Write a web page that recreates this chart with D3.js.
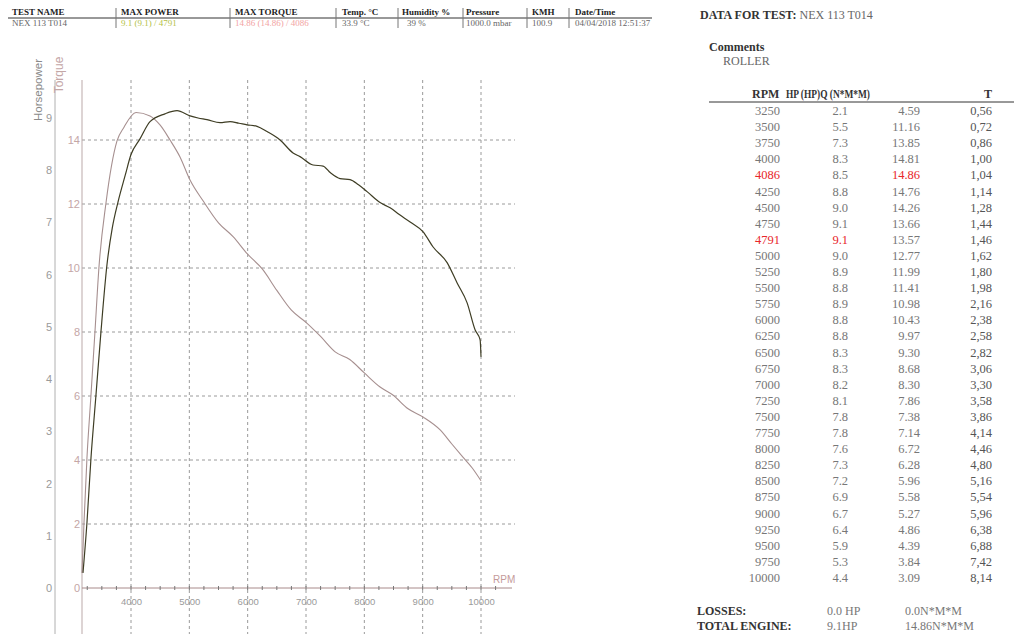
<!DOCTYPE html>
<html>
<head>
<meta charset="utf-8">
<script src="https://cdn.jsdelivr.net/npm/d3@7"></script>
<style>
  body { margin: 0; background: #fff; }
  svg { display: block; }
  .serif { font-family: "Liberation Serif", "Times New Roman", serif; }
  .sans { font-family: "Liberation Sans", Arial, sans-serif; }
</style>
</head>
<body>
<svg id="chart" width="1014" height="634"></svg>
<script>
// ---- data ----
const headerLabels = ["TEST NAME", "MAX POWER", "MAX TORQUE", "Temp. °C", "Humidity %", "Pressure", "KMH", "Date/Time"];
const headerValues = ["NEX 113 T014", "9.1 (9.1) / 4791", "14.86 (14.86) / 4086", "33.9 °C", "39 %", "1000.0 mbar", "100.9", "04/04/2018 12:51:37"];

// horsepower curve (rpm, hp)
const hpRpm = [3177, 3245, 3314, 3400, 3486, 3588, 3680, 3777, 3900, 4000, 4154, 4326, 4583, 4789, 5012, 5150, 5303, 5526, 5698, 5850, 5989, 6161, 6332, 6555, 6778, 6898, 7121, 7293, 7420, 7584, 7756, 7900, 8047, 8270, 8442, 8600, 8785, 9008, 9179, 9419, 9591, 9762, 9900, 9985, 10000];
const hpValues = [0.29, 1.25, 2.49, 3.70, 4.92, 6.19, 6.9, 7.39, 7.9, 8.3, 8.6, 8.93, 9.08, 9.14, 9.04, 9.0, 8.97, 8.91, 8.93, 8.9, 8.87, 8.84, 8.74, 8.58, 8.33, 8.26, 8.10, 8.08, 7.95, 7.84, 7.82, 7.72, 7.59, 7.38, 7.28, 7.15, 7.01, 6.82, 6.53, 6.23, 5.84, 5.46, 4.94, 4.75, 4.43];

// torque curve (rpm, N*m)
const tqRpm = [3160, 3194, 3245, 3314, 3383, 3451, 3571, 3760, 3880, 4086, 4326, 4497, 4669, 4840, 5012, 5235, 5500, 5750, 6000, 6250, 6500, 6750, 7000, 7250, 7500, 7750, 8000, 8270, 8490, 8750, 9010, 9300, 9500, 9690, 9850, 10000];
const tqValues = [0.47, 2.03, 4.06, 6.03, 8.03, 10.03, 12.03, 13.97, 14.4, 14.86, 14.75, 14.47, 14.0, 13.47, 12.75, 12.1, 11.41, 10.98, 10.43, 9.97, 9.30, 8.68, 8.30, 7.86, 7.38, 7.14, 6.72, 6.28, 6.03, 5.6, 5.34, 4.94, 4.5, 4.09, 3.75, 3.35];

const xTicks = [4000, 5000, 6000, 7000, 8000, 9000, 10000];
const hpTicks = [0, 1, 2, 3, 4, 5, 6, 7, 8, 9];
const tqTicks = [0, 2, 4, 6, 8, 10, 12, 14];

// table on the right
const tableRpm = [3250, 3500, 3750, 4000, 4086, 4250, 4500, 4750, 4791, 5000, 5250, 5500, 5750, 6000, 6250, 6500, 6750, 7000, 7250, 7500, 7750, 8000, 8250, 8500, 8750, 9000, 9250, 9500, 9750, 10000];
const tableHp = ["2.1", "5.5", "7.3", "8.3", "8.5", "8.8", "9.0", "9.1", "9.1", "9.0", "8.9", "8.8", "8.9", "8.8", "8.8", "8.3", "8.3", "8.2", "8.1", "7.8", "7.8", "7.6", "7.3", "7.2", "6.9", "6.7", "6.4", "5.9", "5.3", "4.4"];
const tableTq = ["4.59", "11.16", "13.85", "14.81", "14.86", "14.76", "14.26", "13.66", "13.57", "12.77", "11.99", "11.41", "10.98", "10.43", "9.97", "9.30", "8.68", "8.30", "7.86", "7.38", "7.14", "6.72", "6.28", "5.96", "5.58", "5.27", "4.86", "4.39", "3.84", "3.09"];
const tableT = ["0,56", "0,72", "0,86", "1,00", "1,04", "1,14", "1,28", "1,44", "1,46", "1,62", "1,80", "1,98", "2,16", "2,38", "2,58", "2,82", "3,06", "3,30", "3,58", "3,86", "4,14", "4,46", "4,80", "5,16", "5,54", "5,96", "6,38", "6,88", "7,42", "8,14"];
const maxTorqueRpm = 4086;
const maxPowerRpm = 4791;

const svg = d3.select("#chart");

// ---- header table (top left) ----
const headerX = [12, 121, 235, 342, 402, 466, 532, 575];
const sepX = [116, 230, 336, 398, 463, 527, 569];
const colors = ["#666", "#b4bf45", "#f2a3a3", "#666", "#666", "#666", "#666", "#666"];

const head = svg.append("g").attr("class", "serif");
head.append("line")
    .attr("x1", 8).attr("x2", 652).attr("y1", 18).attr("y2", 18)
    .attr("stroke", "#333").attr("stroke-width", 1);
head.selectAll("line.sep")
    .data(sepX)
    .join("line")
    .attr("class", "sep")
    .attr("x1", d => d).attr("x2", d => d)
    .attr("y1", 8).attr("y2", 28)
    .attr("stroke", "#777");
head.selectAll("text.hl")
    .data(headerLabels)
    .join("text")
    .attr("class", "hl")
    .attr("x", (d, i) => headerX[i]).attr("y", 15)
    .attr("font-size", 9).attr("font-weight", "bold").attr("fill", "#222")
    .text(d => d);
head.selectAll("text.hv")
    .data(headerValues)
    .join("text")
    .attr("class", "hv")
    .attr("x", (d, i) => headerX[i] + (i == 4 ? 5 : 0)).attr("y", 26)
    .attr("font-size", 9).attr("fill", (d, i) => colors[i])
    .text(d => d);

// ---- chart ----
const x = d3.scaleLinear().domain([4000, 10000]).range([131, 481]);
const yHp = d3.scaleLinear().domain([0, 9]).range([588, 118]);
const yTq = d3.scaleLinear().domain([0, 14]).range([588, 140]);

const plot = svg.append("g").attr("class", "sans");
const plotTop = 80, plotBottom = 634, plotLeft = 82, plotRight = 515;

// dashed grid
plot.selectAll("line.vgrid")
    .data(xTicks)
    .join("line")
    .attr("class", "vgrid")
    .attr("x1", d => x(d)).attr("x2", d => x(d))
    .attr("y1", plotTop).attr("y2", plotBottom)
    .attr("stroke", "#9a9a9a").attr("stroke-dasharray", "3,3");
plot.selectAll("line.hgrid")
    .data(tqTicks.filter(d => d > 0))
    .join("line")
    .attr("class", "hgrid")
    .attr("x1", plotLeft).attr("x2", plotRight)
    .attr("y1", d => yTq(d)).attr("y2", d => yTq(d))
    .attr("stroke", "#9a9a9a").attr("stroke-dasharray", "3,3");

// vertical axis lines
plot.append("line").attr("x1", 55).attr("x2", 55).attr("y1", plotTop).attr("y2", plotBottom)
    .attr("stroke", "#b0b0b0");
plot.append("line").attr("x1", plotLeft).attr("x2", plotLeft).attr("y1", plotTop).attr("y2", plotBottom)
    .attr("stroke", "#bba9a9");

// horsepower axis labels
const hpAxis = plot.append("g")
    .attr("transform", "translate(55,0)")
    .call(d3.axisLeft(yHp).tickValues(hpTicks).tickSize(0).tickPadding(3));
hpAxis.select(".domain").remove();
hpAxis.selectAll("text").attr("font-size", 11).attr("fill", "#9a9a9a").attr("font-family", "Liberation Sans, Arial, sans-serif");

// torque axis labels
const tqAxis = plot.append("g")
    .attr("transform", `translate(${plotLeft},0)`)
    .call(d3.axisLeft(yTq).tickValues(tqTicks).tickSize(0).tickPadding(2));
tqAxis.select(".domain").remove();
tqAxis.selectAll("text").attr("font-size", 11).attr("fill", "#c4a6a6").attr("font-family", "Liberation Sans, Arial, sans-serif");

// x axis
plot.append("line")
    .attr("x1", plotLeft).attr("x2", 512)
    .attr("y1", yHp(0)).attr("y2", yHp(0))
    .attr("stroke", "#a88a8a");
plot.selectAll("line.minor")
    .data(d3.range(3250, 10500, 250))
    .join("line")
    .attr("class", "minor")
    .attr("x1", d => x(d)).attr("x2", d => x(d))
    .attr("y1", yHp(0) - 2).attr("y2", yHp(0) + 2)
    .attr("stroke", "#777");
const xAxis = plot.append("g")
    .attr("transform", `translate(0,${yHp(0)})`)
    .call(d3.axisBottom(x).tickValues(xTicks).tickSize(0).tickPadding(10).tickFormat(d3.format("d")));
xAxis.select(".domain").remove();
xAxis.selectAll("text").attr("font-size", 9.5).attr("fill", "#9a9a9a").attr("font-family", "Liberation Sans, Arial, sans-serif");

plot.append("text").attr("x", 493).attr("y", 583)
    .attr("font-size", 10).attr("fill", "#c49a9a").text("RPM");

// axis titles
plot.append("text")
    .attr("transform", "translate(42,90) rotate(-90)")
    .attr("text-anchor", "middle")
    .attr("font-size", 11.5).attr("fill", "#8a8a8a")
    .text("Horsepower");
plot.append("text")
    .attr("transform", "translate(63,75) rotate(-90)")
    .attr("text-anchor", "middle")
    .attr("font-size", 12).attr("fill", "#c4a6a6")
    .text("Torque");

// curves
const tqLine = d3.line()
    .x((d, i) => x(tqRpm[i]))
    .y(d => yTq(d))
    .curve(d3.curveMonotoneX);
const hpLine = d3.line()
    .x((d, i) => x(hpRpm[i]))
    .y(d => yHp(d))
    .curve(d3.curveMonotoneX);

plot.append("path")
    .datum(tqValues)
    .attr("d", tqLine)
    .attr("fill", "none")
    .attr("stroke", "#a68f8f")
    .attr("stroke-width", 1.1);
plot.append("path")
    .datum(hpValues)
    .attr("d", hpLine)
    .attr("fill", "none")
    .attr("stroke", "#3e3d24")
    .attr("stroke-width", 1.2);

// ---- right side ----
const side = svg.append("g").attr("class", "serif");
const t1 = side.append("text").attr("x", 700).attr("y", 19).attr("font-size", 12);
t1.append("tspan").attr("font-weight", "bold").attr("fill", "#333").text("DATA FOR TEST: ");
t1.append("tspan").attr("fill", "#666").text("NEX 113 T014");

side.append("text").attr("x", 709).attr("y", 51).attr("font-size", 12)
    .attr("font-weight", "bold").attr("fill", "#333").text("Comments");
side.append("text").attr("x", 723).attr("y", 65).attr("font-size", 12)
    .attr("fill", "#666").text("ROLLER");

// table header (HP and TQ titles print on top of each other in the original)
const colRight = [780, 848, 920, 992];
side.append("text").attr("x", 752).attr("y", 98)
    .attr("font-size", 12).attr("font-weight", "bold").attr("fill", "#333").text("RPM");
side.append("text").attr("x", 786).attr("y", 98)
    .attr("font-size", 12).attr("font-weight", "bold").attr("fill", "#333")
    .attr("textLength", 84).attr("lengthAdjust", "spacingAndGlyphs")
    .text("HP (HP)Q (N*M*M)");
side.append("text").attr("x", colRight[3]).attr("y", 98).attr("text-anchor", "end")
    .attr("font-size", 12).attr("font-weight", "bold").attr("fill", "#333").text("T");
side.append("line").attr("x1", 709).attr("x2", 1014).attr("y1", 102).attr("y2", 102)
    .attr("stroke", "#333");

const rowY = d3.scaleLinear().domain([0, tableRpm.length - 1]).range([115, 582]);
const rows = side.selectAll("g.row")
    .data(tableRpm)
    .join("g")
    .attr("class", "row")
    .attr("font-size", 12.5)
    .attr("text-anchor", "end");

rows.append("text").attr("x", colRight[0]).attr("y", (d, i) => rowY(i))
    .attr("fill", d => (d == maxTorqueRpm || d == maxPowerRpm) ? "#e8262a" : "#777")
    .text(d => d);
rows.append("text").attr("x", colRight[1]).attr("y", (d, i) => rowY(i))
    .attr("fill", d => d == maxPowerRpm ? "#e8262a" : "#777")
    .text((d, i) => tableHp[i]);
rows.append("text").attr("x", colRight[2]).attr("y", (d, i) => rowY(i))
    .attr("fill", d => d == maxTorqueRpm ? "#e8262a" : "#777")
    .text((d, i) => tableTq[i]);
rows.append("text").attr("x", colRight[3]).attr("y", (d, i) => rowY(i))
    .attr("fill", "#555")
    .text((d, i) => tableT[i]);

// totals
side.append("text").attr("x", 697).attr("y", 615).attr("font-size", 12)
    .attr("font-weight", "bold").attr("fill", "#333").text("LOSSES:");
side.append("text").attr("x", 827).attr("y", 615).attr("font-size", 12)
    .attr("fill", "#777").text("0.0 HP");
side.append("text").attr("x", 905).attr("y", 615).attr("font-size", 12)
    .attr("fill", "#777").text("0.0N*M*M");
side.append("text").attr("x", 697).attr("y", 630).attr("font-size", 12)
    .attr("font-weight", "bold").attr("fill", "#333").text("TOTAL ENGINE:");
side.append("text").attr("x", 827).attr("y", 630).attr("font-size", 12)
    .attr("fill", "#777").text("9.1HP");
side.append("text").attr("x", 905).attr("y", 630).attr("font-size", 12)
    .attr("fill", "#777").text("14.86N*M*M");
</script>
</body>
</html>
